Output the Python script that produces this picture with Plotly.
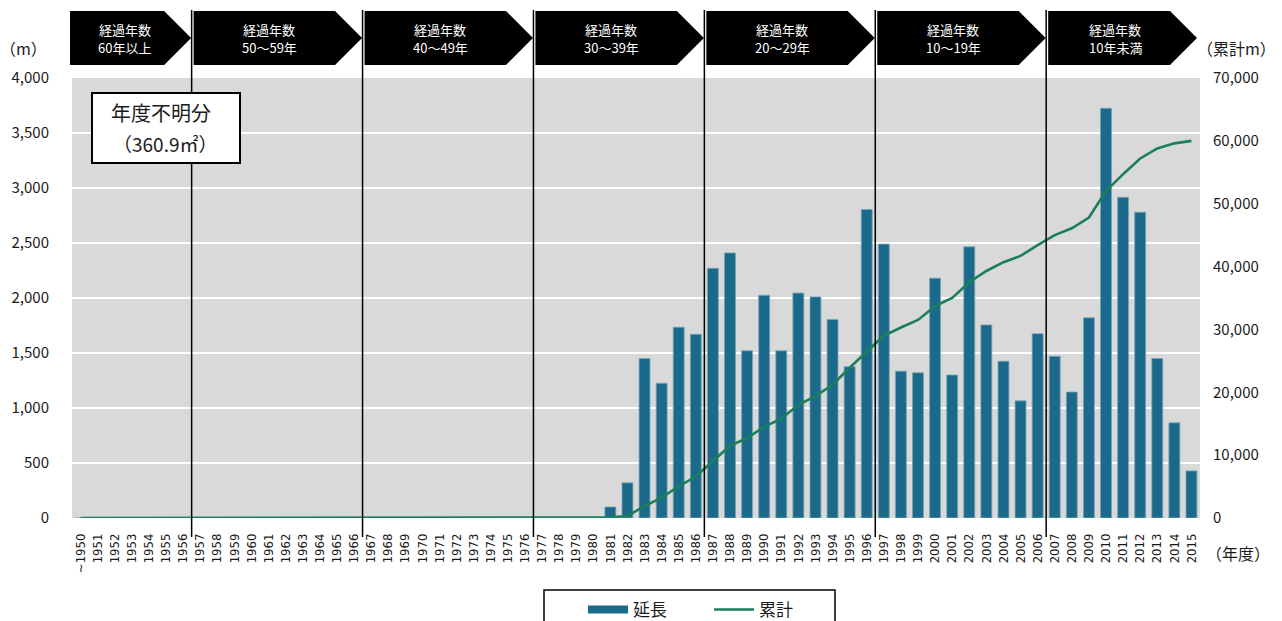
import plotly.graph_objects as go

# ---------------- data ----------------
categories = ["~1950"] + [str(y) for y in range(1951, 2016)]

# 延長 (m), left axis
extension = [0] * 31 + [
    100, 320, 1450, 1225, 1735, 1670, 2270, 2410, 1520, 2025,   # 1981-1990
    1520, 2045, 2010, 1805, 1375, 2805, 2490, 1335, 1320, 2180,  # 1991-2000
    1300, 2465, 1755, 1425, 1065, 1675, 1470, 1145, 1820, 3725,  # 2001-2010
    2915, 2780, 1450, 865, 428,                                  # 2011-2015
]

# 累計 (m), right axis
cumulative = [0] * 31 + [
    100, 330, 1900, 3250, 5050, 6600, 9100, 11500, 12700, 14500,
    15800, 18000, 19400, 21200, 23900, 26400, 29000, 30300, 31500, 33700,
    35000, 37500, 39300, 40700, 41700, 43400, 45000, 46100, 47800, 52000,
    54700, 57200, 58800, 59600, 60000,
]

# age-band boundaries (first year of each band) and labels
band_starts = ["~1950", "1957", "1967", "1977", "1987", "1997", "2007"]
band_labels = ["60年以上", "50～59年", "40～49年", "30～39年", "20～29年", "10～19年", "10年未満"]
boundary_years = band_starts[1:]

left_ticks = list(range(0, 4001, 500))
right_ticks = list(range(0, 70001, 10000))

BAR_COLOR = "#1b6a8c"
LINE_COLOR = "#1a7f5a"

# ---------------- geometry helpers ----------------
W, H = 1282, 621
ML, MR, MT, MB = 72, 82, 78, 103
PW = W - ML - MR
PH = H - MT - MB
N = len(categories)


def px_to_px(x):
    return (x - ML) / PW


def py_to_py(y):
    return (H - MB - y) / PH


def cat_edge(label):
    return categories.index(label) / N  # paper x of left edge of category


fig = go.Figure()
fig.add_bar(
    x=categories, y=extension, name="延長", yaxis="y", showlegend=False,
    marker=dict(color=BAR_COLOR, line=dict(color="#7aa3b8", width=0.8)),
)
# legend-only swatch for the bars (wide rectangle like the original legend)
fig.add_scatter(
    x=[None], y=[None], name="延長", mode="lines", yaxis="y",
    line=dict(color=BAR_COLOR, width=8),
)
fig.add_scatter(
    x=categories, y=cumulative, name="累計", yaxis="y2", mode="lines",
    line=dict(color=LINE_COLOR, width=2.6),
)

shapes = []
annotations = []

# vertical boundary lines
for b in boundary_years:
    xp = cat_edge(b)
    shapes.append(dict(type="line", xref="paper", yref="paper",
                       x0=xp, x1=xp, y0=py_to_py(10), y1=py_to_py(537),
                       line=dict(color="black", width=1.5), layer="above"))

# header arrows
ytop, ybot, ymid = py_to_py(11), py_to_py(65), py_to_py(38)
for i, (start, lab) in enumerate(zip(band_starts, band_labels)):
    if i == 0:
        x0 = px_to_px(70)
    else:
        x0 = cat_edge(start) + 2 / PW
    if i + 1 < len(band_starts):
        tip = cat_edge(band_starts[i + 1]) - 0.5 / PW
    else:
        tip = 1 - 3 / PW
    body = tip - 27 / PW
    path = (f"M {x0},{ytop} L {body},{ytop} L {tip},{ymid} "
            f"L {body},{ybot} L {x0},{ybot} Z")
    shapes.append(dict(type="path", xref="paper", yref="paper", path=path,
                       fillcolor="black", line=dict(color="black", width=0),
                       layer="above"))
    xc = x0 + (tip - x0) * 0.45
    annotations.append(dict(xref="paper", yref="paper", x=xc, y=py_to_py(29),
                            xanchor="center", yanchor="middle", showarrow=False,
                            text="経過年数", font=dict(color="white", size=13)))
    annotations.append(dict(xref="paper", yref="paper", x=xc, y=py_to_py(47.5),
                            xanchor="center", yanchor="middle", showarrow=False,
                            text=lab, font=dict(color="white", size=13)))

# axis unit labels
annotations.append(dict(xref="paper", yref="paper", x=px_to_px(23), y=py_to_py(48),
                        xanchor="center", yanchor="middle", showarrow=False,
                        text="（m）", font=dict(size=16)))
annotations.append(dict(xref="paper", yref="paper", x=px_to_px(1236), y=py_to_py(48),
                        xanchor="center", yanchor="middle", showarrow=False,
                        text="（累計m）", font=dict(size=16)))
annotations.append(dict(xref="paper", yref="paper", x=px_to_px(1238), y=py_to_py(553),
                        xanchor="center", yanchor="middle", showarrow=False,
                        text="（年度）", font=dict(size=16)))

# unknown-year box
shapes.append(dict(type="rect", xref="paper", yref="paper",
                   x0=px_to_px(92), x1=px_to_px(240), y0=py_to_py(93), y1=py_to_py(163),
                   fillcolor="white", line=dict(color="black", width=2), layer="above"))
annotations.append(dict(xref="paper", yref="paper", x=px_to_px(161), y=py_to_py(112),
                        xanchor="center", yanchor="middle", showarrow=False,
                        text="年度不明分", font=dict(size=20)))
annotations.append(dict(xref="paper", yref="paper", x=px_to_px(165), y=py_to_py(143),
                        xanchor="center", yanchor="middle", showarrow=False,
                        text="（360.9㎡）", font=dict(size=19)))

# legend frame (drawn as a shape so the padding matches the original)
shapes.append(dict(type="rect", xref="paper", yref="paper",
                   x0=px_to_px(544), x1=px_to_px(835),
                   y0=py_to_py(590), y1=py_to_py(623),
                   fillcolor="rgba(0,0,0,0)", line=dict(color="black", width=1.5),
                   layer="above"))

fig.update_layout(
    width=W, height=H,
    margin=dict(l=ML, r=MR, t=MT, b=MB, pad=0, autoexpand=False),
    paper_bgcolor="white", plot_bgcolor="#d9d9d9",
    font=dict(family="Noto Sans CJK JP", color="#1a1a1a", size=14),
    bargap=0.36,
    showlegend=True,
    legend=dict(orientation="h", xref="container", yref="container",
                x=583 / W, xanchor="left",
                y=(H - 592) / H, yanchor="top",
                borderwidth=0, bgcolor="rgba(0,0,0,0)",
                font=dict(size=17), entrywidth=71, itemwidth=40),
    xaxis=dict(type="category", categoryorder="array", categoryarray=categories,
               range=[-0.5, N - 0.5], tickangle=-90, showgrid=False,
               automargin=False,
               tickfont=dict(family="Liberation Sans Narrow, DejaVu Sans Condensed, Roboto",
                             size=13),
               ticks="", ticklabelstandoff=12, showline=False, zeroline=False),
    yaxis=dict(range=[0, 4000], tickvals=left_ticks, tickformat=",",
               gridcolor="white", gridwidth=1.5, zeroline=False, automargin=False,
               tickfont=dict(size=15), ticks="", ticklabelstandoff=22),
    yaxis2=dict(range=[0, 70000], tickvals=right_ticks, tickformat=",",
                overlaying="y", side="right", showgrid=False, zeroline=False,
                automargin=False,
                tickfont=dict(size=15), ticks="", ticklabelstandoff=12),
    shapes=shapes,
    annotations=annotations,
)

fig.write_html("out.html")
